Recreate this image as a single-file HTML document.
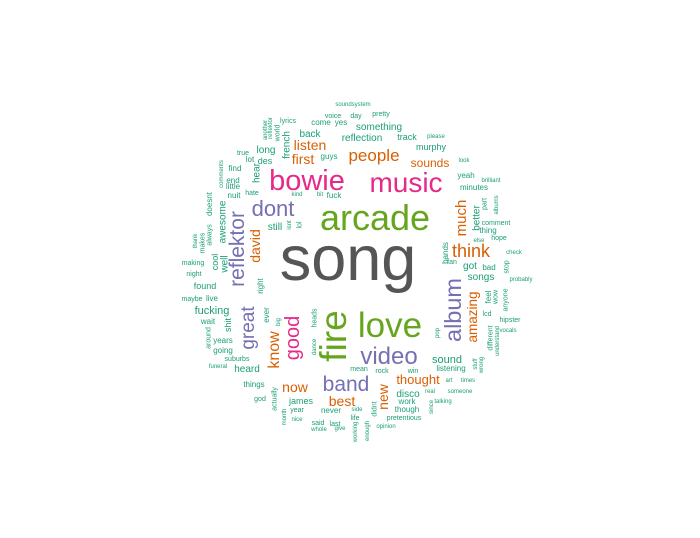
<!DOCTYPE html>
<html><head><meta charset="utf-8"><style>
html,body{margin:0;padding:0;background:#fff;}
svg{display:block;font-family:"Liberation Sans",Arial,sans-serif;}
</style></head><body>
<svg id="cloud" width="700" height="538" viewBox="0 0 700 538"></svg>
<script>
// word list, frequency-like size value, colour group
const words=["song","arcade","bowie","music","love","fire","video","band","album","good","great","reflektor","dont","people","think","much","david","amazing","know","listen","first","now","best","new","thought","sounds",
"soundsystem","voice","day","lyrics","come","yes","another","reflektor2","world","back","reflection","french","true","long","lot","des","guys","find","hear","comments","end","little","nuit","hate","kind","bit","fuck","doesnt","awesome","still","isnt","lol","always","makes","thank","making","cool","well","night","found","right","maybe","live","fucking","wait","shit","ever","big","heads","around","years","going","dance","suburbs","funeral","heard","mean","things","god","actually","james","year","never","side","life","month","nice","said","last","whole","give","working",
"pretty","something","track","please","murphy","look","yeah","brilliant","minutes","part","albums","better","comment","thing","else","hope","check","bands","fan","got","bad","stop","songs","probably","feel","wow","anyone","lcd","hipster","different","understand","vocals","pop","sound","listening","stuff","wrong","rock","win","art","times","disco","real","someone","work","though","talking","since","pretentious","didnt","opinion","enough"];
const sizes=[63,36,29,28,35,37,24,21,23.5,20,19,21,22,17,18,15,14,13.5,16,14,14,14,14,14,13,12,
6,7,7,7,8,8,6,6,7,10,10,10,7,10,8,9,8,8,10,6,8,8,8,7,6,6,8,8,10,10,6,7,7,7,6,7,9,10,7,9,8,7,8,11,8,9,8,6,7,7,8,8,6,7,6,10,7,8,7,7,9,7,8,6,7,6,6,7,7,6,6,6,
7,10,9,6,9,6,8,6,8,7,6,10,7,8,6,7,6,8,7,10,8,7,10,6,8,7,7,7,7,7,6,6,6,11,8,6,6,7,7,6,6,10,6,6,8,8,6,6,7,7,6,6];
const groups={song:"g",arcade:"G",love:"G",fire:"G",bowie:"P",music:"P",good:"P",dont:"V",video:"V",band:"V",album:"V",reflektor:"V",great:"V",
people:"O",think:"O",much:"O",david:"O",know:"O",listen:"O",first:"O",now:"O",best:"O",new:"O",thought:"O",amazing:"O",sounds:"O"};
const palette={g:"#555555",G:"#66a61e",P:"#e7298a",V:"#7570b3",O:"#d95f02",T:"#1b9e77"};
// layout: [centerX, baseline/centerY, vertical]
const layout=[[348,280,0],[375,230,0],[307,190,0],[406,192,0],[390,337,0],[346,336,1],[389,364,0],[346,391,0],[461,310,1],[299,338,1],[254,328,1],[244,249,1],[273,216,0],[374,161,0],[471,257,0],[466,218,1],[260,246,1],[477,317,1],[279,350,1],[310,150,0],[303,164,0],[295,392,0],[342,406,0],[388,397,1],[418,384,0],[430,167,0],
[353,106,0],[333,118,0],[356,118,0],[288,123,0],[321,125,0],[341,125,0],[265,130,1],[270,128,1],[277,133,1],[310,137,0],[362,141,0],[286,145,1],[243,155,0],[266,153,0],[250,162,0],[265,164,0],[329,159,0],[235,171,0],[256,173,1],[221,174,1],[233,183,0],[233,189,0],[234,198,0],[252,195,0],[297,196,0],[320,196,0],[334,198,0],[209,204,1],[222,222,1],[275,230,0],[289,225,1],[299,225,1],[209,235,1],[202,243,1],[195,241,1],[193,265,0],[215,262,1],[224,264,1],[194,276,0],[205,289,0],[260,286,1],[192,301,0],[212,301,0],[212,314,0],[208,324,0],[228,325,1],[266,315,1],[278,322,1],[314,318,1],[208,338,1],[223,343,0],[223,353,0],[314,347,1],[237,361,0],[218,368,0],[247,372,0],[359,371,0],[254,387,0],[260,401,0],[274,399,1],[301,404,0],[297,412,0],[331,413,0],[357,411,0],[355,420,0],[284,417,1],[297,421,0],[318,425,0],[335,426,0],[319,431,0],[340,430,0],[355,432,1],
[381,116,0],[379,130,0],[407,140,0],[436,138,0],[431,150,0],[464,162,0],[466,178,0],[491,182,0],[474,190,0],[484,204,1],[496,205,1],[476,218,1],[496,225,0],[488,233,0],[479,242,0],[499,240,0],[514,254,0],[445,253,1],[452,264,0],[470,269,0],[489,270,0],[506,267,1],[481,280,0],[521,281,0],[488,297,1],[495,297,1],[505,300,1],[487,316,0],[510,322,0],[490,338,1],[497,341,1],[508,332,0],[437,333,1],[447,363,0],[451,371,0],[475,364,1],[481,365,1],[382,373,0],[413,373,0],[449,382,0],[468,382,0],[408,397,0],[430,393,0],[460,393,0],[407,404,0],[407,412,0],[443,403,0],[431,407,1],[404,420,0],[374,409,1],[386,428,0],[367,431,1]];

const NS="http://www.w3.org/2000/svg";
const svg=document.getElementById("cloud");
words.forEach((w,i)=>{
  const s=sizes[i], L=layout[i];
  const t=document.createElementNS(NS,"text");
  
  
  t.textContent=w==="reflektor2"?"reflektor":w;
  t.setAttribute("font-size",s);
  t.setAttribute("text-anchor","middle");
  t.setAttribute("fill",palette[groups[w]||"T"]);
  if(L[2]){
    const bx=(i<26)?L[0]:L[0]+0.35*s;
    t.setAttribute("transform","translate("+bx+","+L[1]+") rotate(-90)");
  }else{
    t.setAttribute("x",L[0]);
    t.setAttribute("y",i<26?L[1]:L[1]);
  }
  svg.appendChild(t);
});
</script>
</body></html>
